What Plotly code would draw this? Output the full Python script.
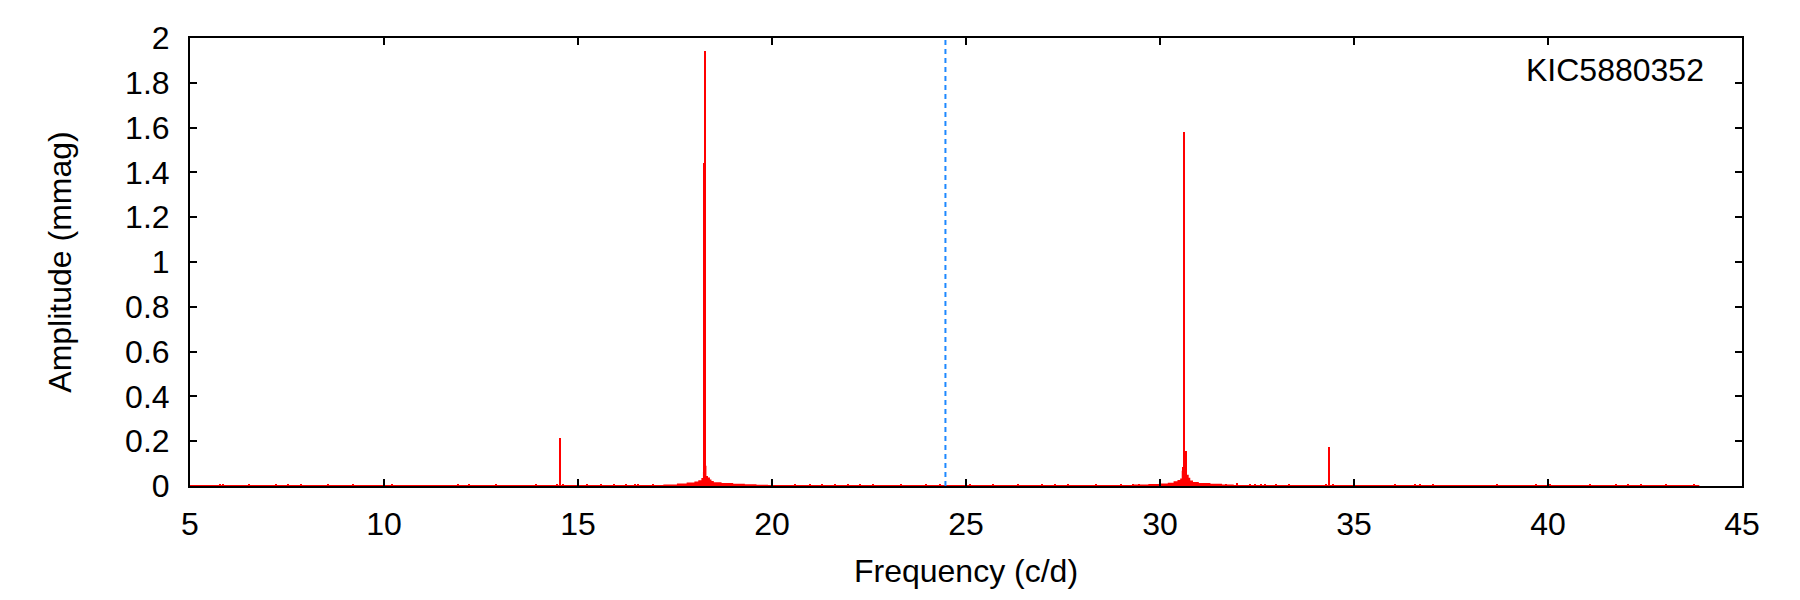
import plotly.graph_objects as go

# ---- data ----
star_name = "KIC5880352"
nyquist_freq = 24.47          # c/d, dashed vertical line

# smooth part of the spectrum: noise floor + broad humps around the two main modes
env_freq = [5.0, 17.0, 17.2, 17.55, 17.8, 18.0, 18.1, 18.18, 18.22, 18.26, 18.31, 18.35,
            18.40, 18.44, 18.5, 18.7, 19.0, 19.3, 19.6, 19.9, 29.3, 29.7, 30.0, 30.2,
            30.35, 30.45, 30.52, 30.56, 30.6, 30.66, 30.7, 30.74, 30.78, 30.85, 31.0,
            31.3, 31.6, 31.9, 43.9]
env_amp = [0.005, 0.005, 0.007, 0.011, 0.016, 0.020, 0.026, 0.036, 0.062, 0.090, 0.045,
           0.038, 0.029, 0.022, 0.017, 0.013, 0.010, 0.008, 0.006, 0.005, 0.007, 0.009,
           0.011, 0.015, 0.021, 0.027, 0.034, 0.068, 0.086, 0.050, 0.050, 0.037, 0.025,
           0.018, 0.013, 0.010, 0.007, 0.005, 0.005]

# individual peaks (impulses)
peak_freq = [14.55, 18.26, 18.29, 30.59, 30.63, 30.67, 34.37]
peak_amp = [0.214, 1.443, 1.942, 0.086, 1.580, 0.156, 0.174]

# small noise spikes
spike_freq = [5.77, 5.85, 6.52, 7.22, 7.52, 7.86, 8.55, 9.20, 10.20, 11.90, 12.18, 12.88,
              13.93, 14.45, 14.62, 15.24, 15.59, 15.93, 16.24, 16.47, 16.55, 16.93,
              20.59, 20.98, 21.28, 21.62, 21.97, 22.27, 22.60, 23.32, 23.97, 24.33,
              25.10, 25.70, 26.33, 26.95, 27.29, 27.64, 28.34, 29.00, 29.30, 29.45,
              31.35, 31.45, 31.70, 31.98, 32.32, 32.45, 32.60, 32.70, 32.99, 33.32,
              34.27, 34.46, 36.06, 36.57, 36.70, 37.03, 38.70, 39.70, 40.05, 41.08,
              41.75, 42.06, 42.40, 43.04, 43.76]
spike_amp = [0.009, 0.008, 0.009, 0.008, 0.009, 0.008, 0.009, 0.009, 0.009, 0.009, 0.008,
             0.009, 0.009, 0.011, 0.011, 0.008, 0.009, 0.008, 0.008, 0.009, 0.009, 0.008,
             0.010, 0.010, 0.009, 0.010, 0.010, 0.009, 0.010, 0.009, 0.010, 0.010,
             0.009, 0.009, 0.010, 0.010, 0.009, 0.010, 0.010, 0.011, 0.010, 0.010,
             0.010, 0.010, 0.011, 0.013, 0.011, 0.011, 0.010, 0.011, 0.010, 0.010,
             0.011, 0.011, 0.009, 0.010, 0.009, 0.009, 0.009, 0.009, 0.009, 0.009,
             0.010, 0.010, 0.010, 0.009, 0.010]

x_ticks = [5, 10, 15, 20, 25, 30, 35, 40, 45]
y_ticks = [0, 0.2, 0.4, 0.6, 0.8, 1.0, 1.2, 1.4, 1.6, 1.8, 2.0]

RED = "#FF0000"
FONT = "Liberation Sans, Arial, sans-serif"
FS = 32

fig = go.Figure()

fig.add_trace(go.Scatter(x=env_freq, y=env_amp, mode="lines", line=dict(color=RED, width=0, shape="hv"),
                         fill="tozeroy", fillcolor=RED, hoverinfo="skip", showlegend=False))
fig.add_trace(go.Bar(x=spike_freq, y=spike_amp, width=0.03, marker=dict(color=RED, line=dict(width=0)),
                     showlegend=False))
fig.add_trace(go.Bar(x=peak_freq, y=peak_amp, width=0.035, marker=dict(color=RED, line=dict(width=0)),
                     showlegend=False))
fig.add_trace(go.Scatter(x=[nyquist_freq, nyquist_freq], y=[y_ticks[0], y_ticks[-1]], mode="lines",
                         line=dict(color="#1E88FF", width=2, dash="5px,4px"), showlegend=False))

fig.add_annotation(text=star_name, xref="paper", yref="paper", x=0.977, y=0.929,
                   xanchor="right", yanchor="middle", showarrow=False,
                   font=dict(family=FONT, size=FS, color="black"))

axis_common = dict(showline=True, linecolor="black", linewidth=2, mirror="ticks",
                   ticks="inside", ticklen=7, tickwidth=2, tickcolor="black",
                   showgrid=False, zeroline=False,
                   tickfont=dict(family=FONT, size=FS, color="black"))

fig.update_xaxes(range=[x_ticks[0], x_ticks[-1]], tickvals=x_ticks,
                 title=dict(text="Frequency (c/d)", font=dict(family=FONT, size=FS, color="black"), standoff=18),
                 ticklabelstandoff=9, **axis_common)
fig.update_yaxes(range=[y_ticks[0], y_ticks[-1]], tickvals=y_ticks,
                 title=dict(text="Amplitude (mmag)", font=dict(family=FONT, size=FS, color="black"), standoff=44),
                 ticklabelstandoff=12, **axis_common)

fig.update_layout(width=1800, height=600, margin=dict(l=190, r=58, t=38, b=114),
                  plot_bgcolor="white", paper_bgcolor="white", barmode="overlay", bargap=0,
                  font=dict(family=FONT, color="black"))

fig.write_html("out.html")
